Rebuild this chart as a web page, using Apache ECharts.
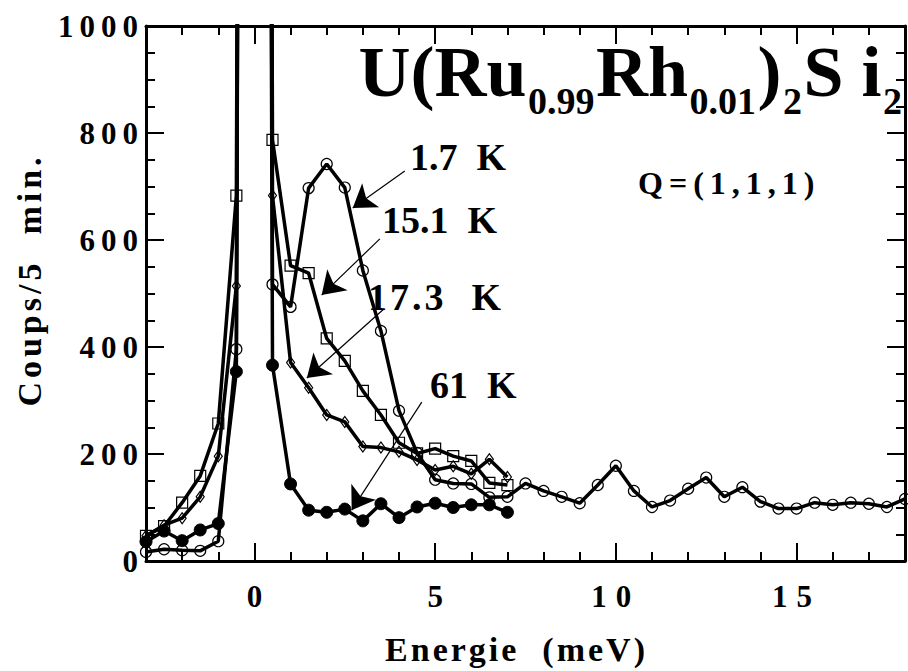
<!DOCTYPE html>
<html><head><meta charset="utf-8">
<script src="https://cdn.jsdelivr.net/npm/echarts@6/dist/echarts.min.js"></script>
<style>html,body{margin:0;padding:0;background:#fff}#chart{width:908px;height:671px}svg text{white-space:pre}</style>
</head><body><div id="chart"></div>
<script>
// ---- data ----
const energyFull = [-3,-2.5,-2,-1.5,-1,-0.5,0,0.5,1,1.5,2,2.5,3,3.5,4,4.5,5,5.5,6,6.5,7,7.5,8,8.5,9,9.5,10,10.5,11,11.5,12,12.5,13,13.5,14,14.5,15,15.5,16,16.5,17,17.5,18];
const energyShort = [-3,-2.5,-2,-1.5,-1,-0.5,0,0.5,1,1.5,2,2.5,3,3.5,4,4.5,5,5.5,6,6.5,7];
// value at E=0 is the off-scale elastic peak
const counts_1_7K  = [17,22,20,19,37,396,10000,517,475,697,742,698,543,430,281,202,152,145,144,119,120,145,131,120,108,142,178,131,101,113,135,156,120,138,111,98,98,109,105,109,107,101,116];
const counts_15_1K = [47,65,109,159,257,683,10000,787,552,538,416,374,318,273,221,201,210,196,187,146,142];
const counts_17_3K = [47,67,80,120,196,514,10000,683,371,324,273,260,214,212,204,189,170,177,163,190,157];
const counts_61K   = [36,56,38,58,70,354,10000,366,144,95,91,97,75,107,81,101,108,100,105,105,91];
const seriesNames = ['1.7 K','15.1 K','17.3 K','61 K'];
const xTickValues = [0,5,10,15];
const xTickLabels = ['0','5','10','15'];
const yTickValues = [0,200,400,600,800,1000];
const yTickLabels = ['0','200','400','600','800','1000'];
// annotation arrows: [fromE, fromCounts, toE, toCounts]
const arrow_1_7K  = [4.16,729,2.72,660];
const arrow_15_1K = [3.47,602,1.86,497];
const arrow_17_3K = [3.58,471,1.45,342];
const arrow_61K   = [4.63,297,2.69,95];

// ---- chart ----
const F = '"Liberation Serif","Times New Roman",serif';
const chart = echarts.init(document.getElementById('chart'), null, {renderer:'svg'});
const pairs = (xs, ys) => xs.map((x,i)=>[x, ys[i]]);
const black = '#000';
const axLine = {color:black, width:3};
const tickStyle = {color:black, width:2};
const labelFont = {fontFamily:F, fontWeight:'bold', fontSize:31, color:black};

function xAxisPair(pos, withLabels){
  const minorAx = {type:'value', min:-3, max:18, interval:1, position:pos,
    axisLine:{show:true, onZero:false, lineStyle:axLine},
    axisTick:{show:true, inside:true, length:9, lineStyle:tickStyle},
    axisLabel:{show:false}, splitLine:{show:false}};
  const majorAx = {type:'value', min:-3, max:18, interval:1, position:pos,
    axisLine:{show:false, onZero:false},
    axisTick:{show:true, inside:true, length:18, customValues:xTickValues, lineStyle:tickStyle},
    axisLabel: withLabels ? Object.assign({show:true, customValues:xTickValues, margin:20,
      formatter: v => xTickLabels[xTickValues.indexOf(v)] }, labelFont) : {show:false},
    splitLine:{show:false}};
  if (withLabels){
    majorAx.name = 'Energie  (meV)';
    majorAx.nameLocation = 'middle';
    majorAx.nameGap = 71;
    majorAx.nameTextStyle = {fontFamily:F, fontWeight:'bold', fontSize:34, color:black, padding:[0,18,0,0]};
  }
  return [minorAx, majorAx];
}
function yAx(pos, withLabels){
  const ax = {type:'value', min:0, max:1000, interval:200, position:pos,
    axisLine:{show:true, onZero:false, lineStyle:axLine},
    axisTick:{show:true, inside:true, length:18, lineStyle:tickStyle},
    minorTick:{show:true, splitNumber:4, length:9, lineStyle:tickStyle},
    axisLabel: withLabels ? Object.assign({show:true, margin:2,
      formatter: v => yTickLabels[yTickValues.indexOf(v)]}, labelFont) : {show:false},
    splitLine:{show:false}};
  if (withLabels){
    ax.name = 'Coups/5  min.';
    ax.nameLocation = 'middle';
    ax.nameGap = 100;
    ax.nameTextStyle = {fontFamily:F, fontWeight:'bold', fontSize:34, color:black, padding:[0,0,0,27]};
  }
  return ax;
}

const hollow = {color:'rgba(0,0,0,0)', borderColor:black, borderWidth:1.2};
function mkSeries(name, xs, ys, symbol, size, itemStyle, extra){
  return Object.assign({
    name, type:'line', xAxisIndex:0, yAxisIndex:0,
    data: pairs(xs, ys), symbol, symbolSize:size, showAllSymbol:true, clip:true,
    lineStyle:{color:black, width:3.5}, itemStyle, emphasis:{disabled:true}, silent:true, z:3
  }, extra||{});
}
const arrows = [arrow_1_7K, arrow_15_1K, arrow_17_3K, arrow_61K];

const option = {
  animation:false,
  backgroundColor:'#fff',
  title:{
    text:'{b|U(Ru}{s|0.99}{b|Rh}{s|0.01}{b|)}{s|2}{b|S i}{s|2}',
    left:357, top:36, padding:0,
    textStyle:{rich:{
      b:{fontFamily:F, fontWeight:'bold', fontSize:72, lineHeight:72, color:black, verticalAlign:'top', padding:[0,1.5,0,1.5]},
      s:{fontFamily:F, fontWeight:'bold', fontSize:38, lineHeight:38, color:black, verticalAlign:'top', padding:[46,0,0,0]}
    }}
  },
  grid:{left:146, right:3, top:26, bottom:110, containLabel:false, outerBoundsMode:'none'},
  xAxis: xAxisPair('bottom', true).concat(xAxisPair('top', false)),
  yAxis: [yAx('left', true), yAx('right', false)],
  series:[
    mkSeries(seriesNames[0], energyFull, counts_1_7K, 'circle', 11, hollow, {
      markLine:{silent:true, animation:false, symbol:['none','arrow'], symbolSize:22,
        label:{show:false}, emphasis:{disabled:true},
        itemStyle:{color:black},
        lineStyle:{color:black, width:1.2, type:'solid'},
        data: arrows.map(a => [{coord:[a[0],a[1]]},{coord:[a[2],a[3]]}])}
    }),
    mkSeries(seriesNames[1], energyShort, counts_15_1K, 'rect', 11, hollow),
    mkSeries(seriesNames[2], energyShort, counts_17_3K, 'diamond', [8,11], hollow),
    mkSeries(seriesNames[3], energyShort, counts_61K, 'circle', 12, {color:black, borderColor:black, borderWidth:1})
  ],
  graphic:[
    {type:'text', x:410, y:157, style:{text:'1.7  K', font:'bold 38px '+F, fill:black, verticalAlign:'middle', textVerticalAlign:'middle'}},
    {type:'text', x:382, y:220, style:{text:'15.1  K', font:'bold 38px '+F, fill:black, verticalAlign:'middle', textVerticalAlign:'middle'}},
    {type:'text', x:368, y:297, style:{text:'17.3  K', font:'bold 38px '+F, fill:black, verticalAlign:'middle', textVerticalAlign:'middle'}},
    {type:'text', x:430, y:385, style:{text:'61  K', font:'bold 38px '+F, fill:black, verticalAlign:'middle', textVerticalAlign:'middle'}},
    {type:'text', x:638, y:183, style:{text:'Q=(1,1,1)', font:'bold 32px '+F, fill:black, verticalAlign:'middle', textVerticalAlign:'middle'}}
  ]
};

const spacing = {'Energie  (meV)':3, 'Coups/5  min.':4, 'Q=(1,1,1)':6, '17.3  K':3};
function applySpacing(){
  document.querySelectorAll('#chart svg text').forEach(t => {
    const s = t.textContent;
    const anchor = t.getAttribute('text-anchor') || '';
    let ls = 0;
    if (spacing[s] !== undefined) ls = spacing[s];
    else if (/^\d+$/.test(s)) {
      if (anchor === 'end') ls = 6;
      else if (anchor === 'middle' && s.length > 1) ls = 9;
    }
    if (ls) t.setAttribute('letter-spacing', ls);
  });
}
chart.on('finished', applySpacing);
chart.setOption(option);
applySpacing();
setTimeout(applySpacing, 50);
setTimeout(applySpacing, 300);
</script></body></html>
